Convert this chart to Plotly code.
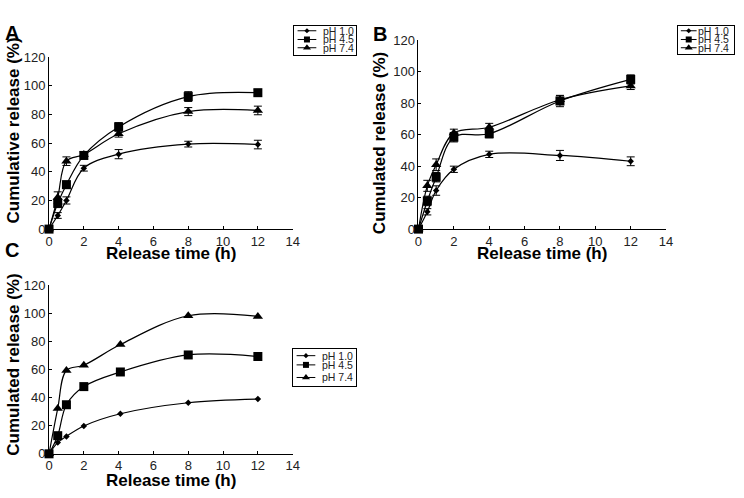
import plotly.graph_objects as go

# ---------------- data ----------------
time_ab = [0, 0.5, 1, 2, 4, 8, 12]
time_c = [0, 0.5, 1, 2, 4.1, 8, 12]
series_names = ["pH 1.0", "pH 4.5", "pH 7.4"]

a_ph10 = [0, 9.5, 20, 42.5, 52.3, 59.3, 59]
a_ph45 = [0, 18, 31, 51.4, 71.3, 92.5, 95.2]
a_ph74 = [0, 22, 47.4, 52, 66.5, 82, 82.8]
a_err10 = [0, 2, 2.5, 2, 3.2, 2, 3]
a_err45 = [0, 3, 2.5, 2.5, 3, 3.4, 2.2]
a_err74 = [0, 4, 3, 2, 2.3, 2.8, 3]

b_ph10 = [0, 11, 24.5, 38, 47.5, 46.8, 43.1]
b_ph45 = [0, 17.9, 33, 58.4, 60.6, 81.4, 95.1]
b_ph74 = [0, 27.5, 40.9, 61, 64.7, 82.2, 91]
b_err10 = [0, 2, 3, 2, 2, 3.2, 2.8]
b_err45 = [0, 3, 3, 3, 2.6, 3.6, 2.9]
b_err74 = [0, 3.5, 3.7, 2.5, 2.5, 2.5, 2.3]

c_ph10 = [0, 8, 12.4, 19.8, 28.5, 36.3, 38.9]
c_ph45 = [0, 12.9, 34.9, 47.8, 58.2, 70.3, 69.2]
c_ph74 = [0, 32.2, 59.3, 63, 77.7, 98.2, 97.7]

x_ticks = [0, 2, 4, 6, 8, 10, 12, 14]
y_ticks = [0, 20, 40, 60, 80, 100, 120]

x_title = "Release time (h)"
y_title_a = "Cumulative release (%)"
y_title_bc = "Cumulated release (%)"

# ---------------- styling ----------------
W, H = 744, 498
FONT = "Arial, Liberation Sans, sans-serif"
symbols = ["diamond", "square", "triangle-up"]
msizes = [5, 9, 9]
leg_msizes = [4, 6, 7]


def fx(px):
    return px / W


def fy(py):
    return 1 - py / H


fig = go.Figure()

panels = [
    dict(x="x", y="y", t=time_ab, vals=[a_ph10, a_ph45, a_ph74], errs=[a_err10, a_err45, a_err74]),
    dict(x="x2", y="y2", t=time_ab, vals=[b_ph10, b_ph45, b_ph74], errs=[b_err10, b_err45, b_err74]),
    dict(x="x3", y="y3", t=time_c, vals=[c_ph10, c_ph45, c_ph74], errs=None),
]

for p in panels:
    for i, name in enumerate(series_names):
        err = None
        if p["errs"] is not None:
            err = dict(type="data", array=p["errs"][i], visible=True,
                       color="black", thickness=1, width=4)
        fig.add_trace(go.Scatter(
            x=p["t"], y=p["vals"][i], xaxis=p["x"], yaxis=p["y"],
            mode="lines+markers", name=name, showlegend=False,
            line=dict(color="black", width=1.2, shape="spline", smoothing=1),
            marker=dict(symbol=symbols[i], size=msizes[i], color="black"),
            error_y=err, cliponaxis=False,
        ))

# axes
axis_common = dict(showline=True, linecolor="black", linewidth=1, showgrid=False,
                   zeroline=False, ticks="inside", ticklen=3, tickcolor="black",
                   tickfont=dict(family=FONT, size=13, color="#222"))

plot_boxes = {
    "": dict(x0=45.7, x1=293, y0=51.7, y1=229),
    "2": dict(x0=420.7, x1=672, y0=34.3, y1=229),
    "3": dict(x0=45.7, x1=293, y0=286.7, y1=460.7),
}
layout = {}
for k, b in plot_boxes.items():
    layout["xaxis" + k] = dict(axis_common, domain=[fx(b["x0"]), fx(b["x1"])], range=[0, 14],
                               tickvals=x_ticks, anchor="y" + k)
    layout["yaxis" + k] = dict(axis_common, domain=[fy(b["y1"]), fy(b["y0"])], range=[0, 120],
                               tickvals=y_ticks, anchor="x" + k)

# legends drawn on small dedicated axes
legend_boxes = [
    dict(k="4", x0=294, x1=357, y0=20, y1=49, rows=[4.5, 13.5, 22], lx0=4, lx1=23, tx=28),
    dict(k="5", x0=684, x1=741, y0=20, y1=48, rows=[4.5, 13.5, 22], lx0=3, lx1=19, tx=18.5),
    dict(k="6", x0=293, x1=357, y0=353, y1=391, rows=[6.5, 16, 29], lx0=4, lx1=23, tx=28),
]
annotations = []
for lb in legend_boxes:
    k = lb["k"]
    w = lb["x1"] - lb["x0"]
    h = lb["y1"] - lb["y0"]
    layout["xaxis" + k] = dict(domain=[fx(lb["x0"]), fx(lb["x1"])], range=[0, w], anchor="y" + k,
                               showline=True, mirror=True, linecolor="black", linewidth=1,
                               showgrid=False, zeroline=False, showticklabels=False, ticks="")
    layout["yaxis" + k] = dict(domain=[fy(lb["y1"]), fy(lb["y0"])], range=[h, 0], anchor="x" + k,
                               showline=True, mirror=True, linecolor="black", linewidth=1,
                               showgrid=False, zeroline=False, showticklabels=False, ticks="")
    for i, name in enumerate(series_names):
        r = lb["rows"][i]
        fig.add_trace(go.Scatter(
            x=[lb["lx0"], lb["lx1"]], y=[r, r], xaxis="x" + k, yaxis="y" + k,
            mode="lines", line=dict(color="black", width=1), showlegend=False, hoverinfo="skip"))
        fig.add_trace(go.Scatter(
            x=[(lb["lx0"] + lb["lx1"]) / 2], y=[r], xaxis="x" + k, yaxis="y" + k,
            mode="markers", marker=dict(symbol=symbols[i], size=leg_msizes[i], color="black"),
            showlegend=False, hoverinfo="skip", cliponaxis=False))
        annotations.append(dict(x=lb["tx"], y=r, xref="x" + k, yref="y" + k, text=name,
                                showarrow=False, xanchor="left", yanchor="middle",
                                font=dict(family=FONT, size=10.5, color="#222")))

# axis titles and panel letters
title_font = dict(family=FONT, size=17, color="black")
for (tx, ty) in [(170, 254.5), (546, 254.5), (170, 488.5)]:
    annotations.append(dict(x=fx(tx), y=fy(ty), xref="paper", yref="paper",
                            text="<b>%s</b>" % x_title, showarrow=False,
                            xanchor="center", yanchor="middle", font=title_font))
for (tx, ty, txt) in [(10, 127.5, y_title_a), (381, 140, y_title_bc), (10, 369, y_title_bc)]:
    annotations.append(dict(x=fx(tx), y=fy(ty), xref="paper", yref="paper",
                            text="<b>%s</b>" % txt, showarrow=False, textangle=-90,
                            xanchor="center", yanchor="middle", font=title_font))
for (tx, ty, txt) in [(8.5, 27, "A"), (382, 27.5, "B"), (8.5, 250.5, "C")]:
    annotations.append(dict(x=fx(tx), y=fy(ty), xref="paper", yref="paper",
                            text="<b>%s</b>" % txt, showarrow=False,
                            xanchor="center", yanchor="middle",
                            font=dict(family=FONT, size=20, color="black")))

fig.update_layout(**layout)
fig.update_layout(
    width=W, height=H, margin=dict(l=0, r=0, t=0, b=0),
    paper_bgcolor="white", plot_bgcolor="white",
    showlegend=False, annotations=annotations,
    font=dict(family=FONT),
)

fig.write_html("out.html", config={"displayModeBar": False},
               post_script="document.body.style.margin='0';document.body.style.overflow='hidden';")
